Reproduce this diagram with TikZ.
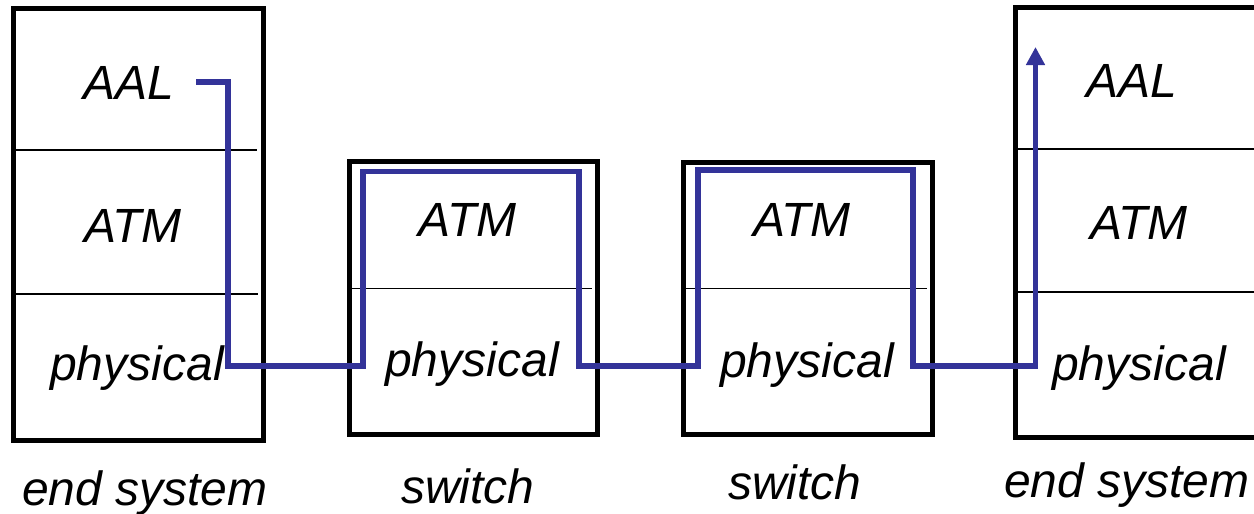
\documentclass[tikz,border=0pt]{standalone}
\usepackage{fontspec}
\setmainfont{Liberation Sans}
\usetikzlibrary{arrows.meta}
\definecolor{flowblue}{RGB}{51,51,153}
\tikzset{
  sysbox/.style={draw=black, line width=2.5pt, rectangle, inner sep=0pt, fill=none},
  divider/.style={draw=black, line width=0.7pt},
  lbl/.style={anchor=base, inner sep=0pt, font=\fontsize{24}{28}\selectfont\itshape},
  flow/.style={draw=flowblue, line width=2.6pt, line join=miter, -{Triangle[length=9pt,width=9pt]}}
}
\begin{document}
\begin{tikzpicture}[x=0.5pt, y=-0.5pt]
\useasboundingbox (0,0) rectangle (1254,514);
\clip (0,0) rectangle (1254,514);
% boxes
\node[sysbox, minimum width=124.75pt, minimum height=216pt] (es1) at (138.25,224.5) {};
\node[sysbox, minimum width=124pt, minimum height=136.5pt] (sw1) at (473,298) {};
\node[sysbox, minimum width=124.5pt, minimum height=136pt] (sw2) at (807.5,298.5) {};
\node[sysbox, minimum width=125pt, minimum height=215pt] (es2) at (1140.5,222.5) {};
% dividers
\draw[divider] (16,150) -- (257,150);
\draw[divider] (16,294) -- (258,294);
\draw[divider] (352,288.5) -- (592,288.5);
\draw[divider] (686,288.5) -- (927,288.5);
\draw[divider] (1018,149) -- (1254,149);
\draw[divider] (1018,292) -- (1254,292);
% labels
\node[lbl] (aal1) at (129,99) {AAL};
\node[lbl] (atm1) at (133,242) {ATM};
\node[lbl] (phy1) at (137,380) {physical};
\node[lbl] (end1) at (145,505) {end system};
\node[lbl] (atm2) at (467.5,236) {ATM};
\node[lbl] (phy2) at (472,376) {physical};
\node[lbl] (swl1) at (468,503) {switch};
\node[lbl] (atm3) at (802,236) {ATM};
\node[lbl] (phy3) at (807,377) {physical};
\node[lbl] (swl2) at (795,499) {switch};
\node[lbl] (aal4) at (1132,97) {AAL};
\node[lbl] (atm4) at (1139,239) {ATM};
\node[lbl] (phy4) at (1139,380) {physical};
\node[lbl] (end2) at (1127,497) {end system};
% flow path
\coordinate (src) at (196,82);
\coordinate (c1) at (228,366);
\coordinate (c2) at (363,171.5);
\coordinate (c3) at (579,366);
\coordinate (c4) at (698,170);
\coordinate (c5) at (913,366);
\coordinate (dst) at (1035.5,47);
\draw[flow] (src) -| (c1) -| (c2) -| (c3) -| (c4) -| (c5) -| (dst);
\end{tikzpicture}
\end{document}
